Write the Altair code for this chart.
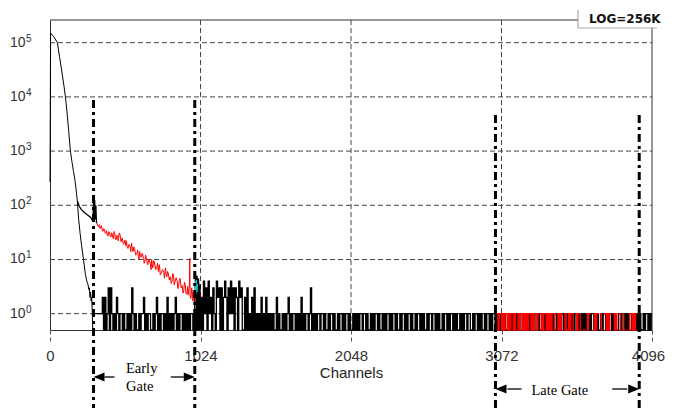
import altair as alt
import pandas as pd

# ---------------- data ----------------
# prompt decay at the start of the spectrum (channel, counts)
DECAY_CH = [0, 4, 25, 50, 65, 80, 95, 105, 115, 128, 139, 150, 160, 171, 180, 186]
DECAY_CT = [270, 150000, 130000, 100000, 55000, 30000, 16000, 10000, 5500, 2200,
            1000, 620, 420, 275, 170, 120]

# upper branch (ends in the early-gate region)
UPPER_CH = [186, 200, 215, 230, 245, 260, 275, 285, 292, 296, 300, 304, 308, 312, 316, 320]
UPPER_CT = [120, 95, 82, 75, 70, 65, 60, 55, 50, 110, 60, 125, 55, 100, 48, 47]

# lower branch (falls to background)
LOWER_CH = [186, 195, 205, 215, 228, 240, 250, 258, 264, 268, 272, 276, 280, 284, 288, 291]
LOWER_CT = [120, 55, 30, 18, 10, 5.5, 4, 3.5, 2.8, 3, 2, 2.5, 1.7, 2, 1, 0]

# red part inside the early gate
EARLY_RED_CH = [320, 325, 330, 336, 341, 345, 350, 355, 360, 365, 370, 375, 380, 384, 387, 391,
                395, 400, 405, 410, 415, 420, 425, 428, 432, 436, 440, 445, 450, 455,
                460, 464, 467, 471, 475, 480, 485, 490, 495, 500, 505, 510, 515, 520,
                525, 530, 538, 546, 550, 555, 560, 565, 570, 575, 583, 592, 596, 600,
                605, 610, 615, 620, 628, 637, 641, 645, 650, 655, 660, 665, 674, 683,
                688, 692, 696, 700, 705, 710, 719, 728, 732, 737, 741, 745, 750, 755,
                765, 774, 779, 785, 790, 795, 800, 805, 812, 819, 825, 830, 835, 840,
                845, 850, 858, 865, 870, 875, 880, 885, 892, 899, 905, 910, 915, 920,
                926, 933, 937, 940, 944, 948, 951, 953, 957, 960, 964, 968, 972, 975,
                980, 985]
EARLY_RED_CT = [47, 42, 40, 44, 37, 39, 42, 35, 33, 37, 36, 31, 30, 34, 31, 28,
                27, 33, 32, 27, 26, 31, 29, 25, 24, 33, 30, 25, 23, 28,
                27, 22, 25, 31, 30, 24, 21, 25, 22, 19, 20, 23, 18, 22,
                17, 16, 19, 17, 14, 20, 16, 14, 17, 16, 12, 13, 15, 12,
                10, 14, 12, 11, 13, 10.4, 8.5, 9, 12, 11, 9, 8, 10, 8.4,
                6.5, 10, 8, 7, 9.5, 9, 6.5, 7.3, 8.5, 6, 7.5, 8, 5.2, 5.5,
                6.5, 5.9, 4.5, 7, 5.5, 4.8, 6, 5.5, 4.2, 4.8, 3.6, 4, 5.5, 5.2,
                3.4, 3.8, 4.6, 4.1, 2.9, 3.2, 4.2, 4.5, 3, 3.3, 2.4, 2.6, 3.8, 3.5,
                2.3, 2.5, 3.2, 2.2, 2.8, 3, 10.5, 2.2, 1.9, 2, 3, 2.6, 1.7, 1.8,
                2.5, 1.2]

# black tail just after the early gate
TAIL_CH = [985, 990, 995, 1000, 1005, 1010, 1016, 1022]
TAIL_CT = [1.2, 5.5, 3, 5, 2.5, 4.5, 2, 3.5]

# cyan marker segment
CYAN_CH = [988, 992, 996, 1000, 1004]
CYAN_CT = [4, 2.3, 4.2, 2.5, 3.5]

# background counts, 8-channel bins from channel 292
BASE_START = 292
BASE_BIN = 8
BASE_PATTERN = [
    "11111111" "20201303" "10102101" "10100101",
    "03101001" "01120101" "10010120" "10110102",
    "01010120" "10110101" "01011010" "40302041",
    "30412031" "04230302" "42031413" "03204230",
    "02030102" "03010102" "01020101" "01002010",
    "01010120" "10110101" "02010110" "13010101",
    "10110100101101001011010110100101",
    "01011011010010101101001010110101",
    "10100101101011010010110101001011",
    "01101010010110101101010010101101",
    "10010110101001011010110100101010",
    "01101001010110101001011011010010",
    "10101101001010110101001010110101",
    "01010010110101001011010110101001",
    "10110101001011010100101101010110",
]

# red background inside the late gate ("-" = no red there)
LATE_START = 3040
LATE_PATTERN = [
    "10110101101011010010110101011010",
    "1101-0101101010110-10101-0100101",
    "10-10110-00-1011--01011-10-1101",
    "01--1010-10-10-0-0110101",
]

EARLY_GATE = [296, 985]
LATE_GATE = [3031, 4009]
X_TICKS = [0, 1024, 2048, 3072, 4096]
X_GRID = [1024, 2048, 3072]
Y_EXP = [0, 1, 2, 3, 4, 5]
X_MAX = 4096


# ---------------- helpers ----------------
def spec_df(chs, cts):
    return pd.DataFrame({"ch": chs, "y": [max(c, 0.5) for c in cts], "seg": 0})


def pattern_df(start, width, pattern, ch_max):
    rows, seg, run = [], 0, []
    for k, c in enumerate(pattern + "-"):
        ch = start + width * k
        if c == "-" or ch >= ch_max:
            if run:
                rows.extend(run)
                rows.append({"ch": min(ch, ch_max), "y": run[-1]["y"], "seg": seg})
                seg += 1
                run = []
            if ch >= ch_max:
                break
            continue
        run.append({"ch": ch, "y": max(int(c), 0.5), "seg": seg})
    return pd.DataFrame(rows)


x_axis = alt.Axis(values=X_TICKS, title="Channels", grid=False, format="d",
                  domainColor="#333", domainWidth=1,
                  tickColor="#555", tickDash=[4, 3], tickSize=12, tickWidth=1,
                  labelFont="Liberation Sans", labelFontSize=15, labelColor="#333",
                  labelPadding=6, labelFlush=False, labelOverlap=False,
                  labelOffset={"condition": {"test": "datum.value == 4096", "value": -4},
                               "value": 0},
                  titleFont="Liberation Sans", titleFontSize=15, titleFontWeight="normal",
                  titleColor="#222", titlePadding=2)
y_axis = alt.Axis(labels=False, ticks=False, grid=False, title="",
                  domainColor="#333", domainWidth=1)

x_enc = alt.X("ch:Q", scale=alt.Scale(domain=[0, X_MAX], nice=False, zero=False), axis=x_axis)
y_enc = alt.Y("y:Q", scale=alt.Scale(type="log", domain=[0.5, 262144], nice=False), axis=y_axis)


def line(df, color, interp="linear", width=1.0):
    return alt.Chart(df).mark_line(color=color, strokeWidth=width, interpolate=interp).encode(
        x=x_enc, y=y_enc, detail="seg:N")


layers = []

# grid
grid_x = alt.Chart(pd.DataFrame({"ch": X_GRID})).mark_rule(
    color="#444", strokeDash=[5, 3], strokeWidth=1).encode(
    x=x_enc, y=alt.value(0), y2=alt.value(310))
grid_y = alt.Chart(pd.DataFrame({"y": [10 ** e for e in Y_EXP]})).mark_rule(
    color="#444", strokeDash=[5, 3], strokeWidth=1).encode(
    y=y_enc, x=alt.value(0), x2=alt.value(602))
layers += [grid_x, grid_y]

# spectrum
base_df = pattern_df(BASE_START, BASE_BIN, "".join(BASE_PATTERN), X_MAX)
late_df = pattern_df(LATE_START, BASE_BIN, "".join(LATE_PATTERN), LATE_GATE[1] + 5)
layers += [
    line(base_df, "black", "step-after", 1.3),
    line(late_df, "#ff0000", "step-after", 1.3),
    line(spec_df(LOWER_CH, LOWER_CT), "black"),
    line(spec_df(DECAY_CH, DECAY_CT), "black"),
    line(spec_df(UPPER_CH, UPPER_CT), "black", width=1.3),
    line(spec_df(EARLY_RED_CH, EARLY_RED_CT), "#ff0000"),
    line(spec_df(TAIL_CH, TAIL_CT), "black", width=1.3),
    line(spec_df(CYAN_CH, CYAN_CT), "#00d8e0"),
]

# frame: top border (stops at the LOG box) and right border
layers.append(alt.Chart(pd.DataFrame({"a": [0]})).mark_rule(color="#333", strokeWidth=1).encode(
    x=alt.value(0), x2=alt.value(528), y=alt.value(0)))
layers.append(alt.Chart(pd.DataFrame({"a": [0]})).mark_rule(color="#333", strokeWidth=1).encode(
    x=alt.value(602), y=alt.value(8), y2=alt.value(310)))
# LOG box
layers.append(alt.Chart(pd.DataFrame({"a": [0]})).mark_rule(color="#999", strokeWidth=1).encode(
    x=alt.value(528), y=alt.value(-10), y2=alt.value(8)))
layers.append(alt.Chart(pd.DataFrame({"a": [0]})).mark_rule(color="#aaa", strokeWidth=1).encode(
    x=alt.value(528), x2=alt.value(607), y=alt.value(8)))
layers.append(alt.Chart(pd.DataFrame({"t": ["LOG=256K"]})).mark_text(
    font="DejaVu Sans", fontWeight="bold", fontSize=12, align="left", baseline="middle",
    color="#111").encode(x=alt.value(539), y=alt.value(-1), text="t:N"))

# y labels 10^n
ylab = pd.DataFrame({"y": [10 ** e for e in Y_EXP], "b": "10", "s": [str(e) for e in Y_EXP]})
layers.append(alt.Chart(ylab).mark_text(
    font="Liberation Sans", fontSize=14, align="right", baseline="middle", color="#333").encode(
    x=alt.value(-24.5), y=y_enc, text="b:N"))
layers.append(alt.Chart(ylab).mark_text(
    font="Liberation Sans", fontSize=10, align="left", baseline="middle", color="#333", dy=-4).encode(
    x=alt.value(-24), y=y_enc, text="s:N"))

# gate lines
for gate, top in ((EARLY_GATE, 80), (LATE_GATE, 95)):
    layers.append(alt.Chart(pd.DataFrame({"ch": gate})).mark_rule(
        color="black", strokeWidth=3, strokeDash=[8, 4, 3, 4]).encode(
        x=x_enc, y=alt.value(top), y2=alt.value(390)))

# arrows
LEFT_HEAD = "M0,0L2,-0.8L2,0.8Z"
RIGHT_HEAD = "M0,0L-2,-0.8L-2,0.8Z"
for gate, ypix, shaft in ((EARLY_GATE, 357, (11, 21, -11, -24)), (LATE_GATE, 369, (12, 26, -12, -27))):
    for ch, head, o1, o2 in ((gate[0], LEFT_HEAD, shaft[0], shaft[1]),
                             (gate[1], RIGHT_HEAD, shaft[2], shaft[3])):
        d = pd.DataFrame({"ch": [ch]})
        layers.append(alt.Chart(d).mark_rule(color="black", strokeWidth=1.3,
                                             xOffset=o1, x2Offset=o2).encode(
            x=x_enc, x2=alt.X2("ch:Q"), y=alt.value(ypix)))
        layers.append(alt.Chart(d).mark_point(shape=head, size=121, filled=True, color="black",
                                              opacity=1, strokeWidth=0).encode(
            x=x_enc, y=alt.value(ypix)))

# gate captions
layers.append(alt.Chart(pd.DataFrame({"t": ["Early"]})).mark_text(
    font="Liberation Serif", fontSize=14.5, align="left", baseline="middle", color="black").encode(
    x=alt.value(76), y=alt.value(349), text="t:N"))
layers.append(alt.Chart(pd.DataFrame({"t": ["Gate"]})).mark_text(
    font="Liberation Serif", fontSize=14.5, align="left", baseline="middle", color="black").encode(
    x=alt.value(76), y=alt.value(367), text="t:N"))
layers.append(alt.Chart(pd.DataFrame({"t": ["Late Gate"]})).mark_text(
    font="Liberation Serif", fontSize=14.5, align="left", baseline="middle", color="black").encode(
    x=alt.value(481.5), y=alt.value(371), text="t:N"))

chart = alt.layer(*layers).properties(
    width=602, height=310,
    autosize=alt.AutoSizeParams(type="none"),
    padding={"left": 42, "top": 12, "right": 13, "bottom": 78},
    background="white",
).configure_view(strokeWidth=0)

chart.save("out.html", embed_options={"renderer": "svg", "actions": False})
